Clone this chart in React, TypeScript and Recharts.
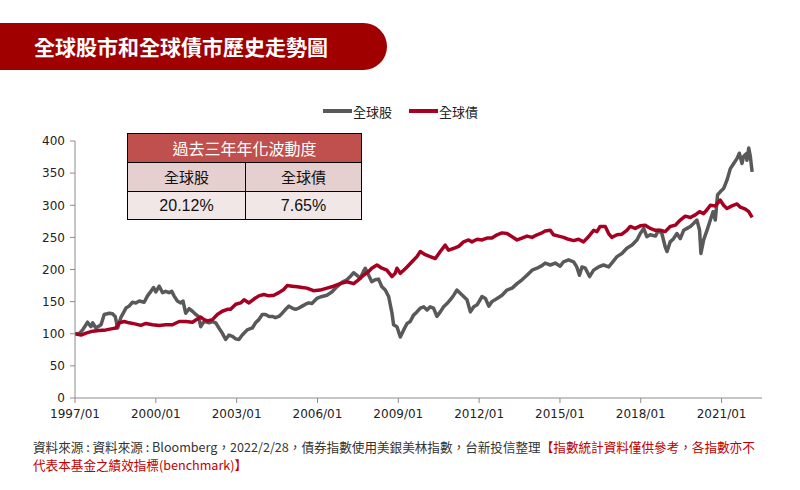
import React from 'react';
import { LineChart, Line, XAxis, YAxis } from 'recharts';

// month index counted from 1997/01
const stockMonths = [0,1.9,3.4,5.6,7.1,7.9,9.3,11.6,13,15.3,16.7,17.9,19,20.4,22.7,24.1,25.6,27.1,28.6,30.8,32.3,33.8,35,36,37.5,39,40.4,41.9,43.1,44.1,45.6,47.1,48.1,49.3,50.8,52.3,53.8,55,56,57,58.2,59.7,61.2,62.7,64.1,65.6,67.1,68.6,70.1,71.6,73,74.5,76.7,79,80.4,81.9,83.4,84.9,86.4,87.9,89.3,90.8,92.3,93.8,95.3,96.7,98.2,99.7,101.2,102.7,104.1,105.5,107.7,110,112.2,114.4,116.6,118.9,121.1,122.6,124.1,125.6,127,128.5,129.3,130.8,132.2,133.7,135.2,136.7,138.2,139.7,141.2,141.9,143.4,144.9,146.4,147.9,149.3,150.8,152.3,153.8,155.3,156.8,158.2,159.7,161.2,162.7,164.2,165.7,167.2,168.7,170.1,171.6,173.1,174.6,176.1,177.6,179.1,181.3,182.8,184.3,185.7,188,190.2,192.4,194.7,196.9,199.1,201.3,203.6,205.8,208,209.4,211.7,213.9,216.1,217.6,219.8,222.1,223.5,224.7,225.8,227.3,229.2,231,233.2,235.4,237.7,239.1,241.4,243.6,245.8,248.1,250.3,251.8,253.3,254.7,256.2,258.5,259.9,261.4,262.9,263.7,265.1,266.6,268.1,269.6,271.1,272.6,274.1,275.6,277,278.2,278.8,280,281.5,283,284.2,285.2,286.2,287.4,288.9,290.4,291.9,293.4,294.9,295.9,297.1,297.8,298.9,299.3,300.1,300.8,301.6];
const stockValues = [100,100,106,118,111,117,109,114,130,132,131,127,109,125,140,143,149,148,151,149,159,166,172,165,174,164,166,164,166,159,151,148,151,132,139,135,130,127,111,117,119,117,119,117,109,101,91,98,96,92,91,98,106,109,117,122,130,130,127,127,125,127,132,138,143,140,138,140,143,146,148,147,155,158,160,165,173,180,184,189,195,191,186,197,202,191,181,184,185,173,168,158,132,114,111,95,106,116,119,129,134,140,142,137,142,140,127,134,142,147,153,160,168,163,158,153,134,142,145,158,155,143,150,155,160,168,171,178,184,191,199,202,206,210,207,210,205,212,215,212,204,191,204,202,189,199,204,207,204,210,220,225,233,238,246,256,264,251,254,252,261,256,235,228,243,248,256,248,261,264,267,272,277,261,225,246,261,277,290,277,316,321,326,339,357,365,373,381,365,376,380,370,389,376,352];

const bondMonths = [0,2.7,4.9,7.9,10.8,13.8,16.7,18.2,19.7,21.9,24.1,27.1,29.3,31.6,34.5,37.5,40.4,43.4,46.4,49.3,52.3,54.5,56,57.5,59,61.2,63.4,65.6,67.9,69.3,71.6,73.8,75.3,77.5,79.7,81.9,84.1,86.4,88.6,90.8,93,94.5,96.7,99,101.2,103.3,106.2,109.2,112.2,115.2,118.1,121.1,124.1,126.3,128.5,130.8,132.2,134.5,136.7,138.9,141.2,142.6,143.4,144.9,146.4,147.9,150.1,152.3,153.8,156,158.2,160.5,162.7,164.9,166.4,168.7,170.9,173.1,175.3,176.8,179.1,181.3,183.5,185.7,188,190.2,192.4,194.7,196.9,199.1,201.3,203.6,205.8,208,209.4,211.7,213.1,215.4,217.6,219.8,222.1,224.3,226.5,228.7,231,232.5,233.9,236.2,237.7,239.1,241.4,243.6,245.8,247.3,249.5,251.8,254,256.2,258.5,260.7,262.9,265.1,267.4,269.6,271.8,274.1,276.3,278.2,280,281.5,283,285.2,287.4,288.9,290.4,292.6,294.9,296.4,298.6,300.1,301.6];
const bondValues = [100,98,101,104,105,106,108,109,117,119,117,115,113,116,114,113,114,114,119,119,118,123,126,122,120,122,130,135,138,138,146,148,153,148,154,159,161,159,160,164,169,175,174,173,172,171,167,168,171,174,178,181,178,184,191,197,202,207,202,199,189,194,202,194,199,204,212,220,228,223,220,217,228,238,230,233,236,243,246,243,247,246,249,249,254,257,256,251,246,249,252,250,254,257,260,261,254,252,250,247,245,247,243,251,261,259,267,267,256,250,254,255,261,267,264,268,269,264,261,261,259,267,269,277,283,281,285,290,287,293,300,299,308,300,295,299,302,297,294,290,281];

const tickMonths = [0, 36, 72, 108, 144, 180, 216, 252, 288];
const tickLabels = ['1997/01', '2000/01', '2003/01', '2006/01', '2009/01', '2012/01', '2015/01', '2018/01', '2021/01'];
const yTicks = [0, 50, 100, 150, 200, 250, 300, 350, 400];

const seriesNames = ['全球股', '全球債'];
const tableTitle = '過去三年年化波動度';
const volValues = ['20.12%', '7.65%'];

const stockData = stockMonths.map((m, i) => ({ m, v: stockValues[i] }));
const bondData = bondMonths.map((m, i) => ({ m, v: bondValues[i] }));

const GRAY = '#595959';
const RED = '#A50021';
const CJK = '"Noto Sans CJK TC", "Noto Sans", sans-serif';
const NUM = '"DejaVu Sans", sans-serif';

export default function App() {
  const tickStyle = { fill: '#222', fontSize: 12, fontFamily: NUM };
  const noteStyle: React.CSSProperties = { position: 'absolute', left: 33, fontFamily: CJK, fontSize: 12.6, lineHeight: '18px', height: 18, color: '#333', whiteSpace: 'nowrap' };
  return (
    <div style={{ position: 'absolute', left: 0, top: 0, width: 800, height: 490, background: '#fff', overflow: 'hidden' }}>
      {/* Title banner */}
      <div style={{ position: 'absolute', left: 0, top: 23, width: 387, height: 47, background: '#A00000', borderRadius: '0 24px 24px 0' }} />
      <div style={{ position: 'absolute', left: 34, top: 23, height: 47, lineHeight: '47px', color: '#fff', fontFamily: CJK, fontWeight: 700, fontSize: 21, whiteSpace: 'nowrap' }}>
        全球股市和全球債市歷史走勢圖
      </div>

      <LineChart width={800} height={490} data={stockData} margin={{ top: 141, right: 38, bottom: 62, left: 0 }} style={{ position: 'absolute', left: 0, top: 0 }}>
        <XAxis
          type="number"
          dataKey="m"
          domain={[0, 306]}
          allowDataOverflow
          ticks={tickMonths}
          tickFormatter={(v: number) => tickLabels[tickMonths.indexOf(v)]}
          height={30}
          stroke="#8c8c8c"
          tickSize={5}
          tickMargin={6}
          tick={tickStyle}
        />
        <YAxis
          type="number"
          domain={[0, 400]}
          ticks={yTicks}
          width={75}
          stroke="#8c8c8c"
          tickSize={5}
          tickMargin={5}
          tick={tickStyle}
        />
        <Line data={stockData} dataKey="v" stroke={GRAY} strokeWidth={3.5} dot={false} isAnimationActive={false} strokeLinejoin="round" />
        <Line data={bondData} dataKey="v" stroke={RED} strokeWidth={3.5} dot={false} isAnimationActive={false} strokeLinejoin="round" />
      </LineChart>

      {/* Legend */}
      <div style={{ position: 'absolute', left: 323, top: 102, height: 18, display: 'flex', alignItems: 'center', fontFamily: CJK, fontSize: 13, color: '#222', whiteSpace: 'nowrap' }}>
        <span style={{ display: 'inline-block', width: 29, height: 4, background: GRAY, marginRight: 1 }} />
        <span style={{ marginRight: 17 }}>{seriesNames[0]}</span>
        <span style={{ display: 'inline-block', width: 29, height: 4, background: RED, marginRight: 1 }} />
        <span>{seriesNames[1]}</span>
      </div>

      {/* Volatility table */}
      <div style={{ position: 'absolute', left: 127, top: 133, width: 235, fontFamily: CJK, color: '#111' }}>
        <div style={{ height: 29, background: '#C0504D', color: '#fff', fontSize: 16, lineHeight: '29px', textAlign: 'center', border: '1px solid #000', borderBottom: 'none', boxSizing: 'border-box' }}>
          {tableTitle}
        </div>
        <div style={{ display: 'flex', height: 29, background: '#E6CFCF', border: '1px solid #000', borderBottom: 'none', boxSizing: 'border-box' }}>
          <div style={{ width: 117, borderRight: '1px solid #000', textAlign: 'center', lineHeight: '28px', fontSize: 15 }}>{seriesNames[0]}</div>
          <div style={{ flex: 1, textAlign: 'center', lineHeight: '28px', fontSize: 15 }}>{seriesNames[1]}</div>
        </div>
        <div style={{ display: 'flex', height: 29, background: '#F2E7E7', border: '1px solid #000', boxSizing: 'border-box' }}>
          <div style={{ width: 117, borderRight: '1px solid #000', textAlign: 'center', lineHeight: '27px', fontSize: 16, fontFamily: '"Liberation Sans", sans-serif' }}>{volValues[0]}</div>
          <div style={{ flex: 1, textAlign: 'center', lineHeight: '27px', fontSize: 16, fontFamily: '"Liberation Sans", sans-serif' }}>{volValues[1]}</div>
        </div>
      </div>

      {/* Footnote */}
      <div style={{ ...noteStyle, top: 438 }}>
        資料來源 : 資料來源 : Bloomberg，2022/2/28，債券指數使用美銀美林指數，台新投信整理<span style={{ color: '#C00000' }}>【指數統計資料僅供參考，各指數亦不</span>
      </div>
      <div style={{ ...noteStyle, top: 456, color: '#C00000' }}>
        代表本基金之績效指標(benchmark)】
      </div>
    </div>
  );
}
